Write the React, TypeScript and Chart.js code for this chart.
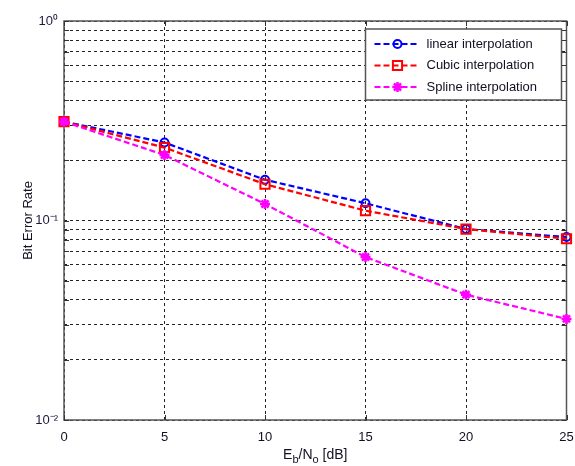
import React, { useEffect, useRef } from "react";
import { Chart, registerables } from "chart.js";
import { drawPoint } from "chart.js/helpers";

Chart.register(...registerables);

const FONT = "'Liberation Sans', Arial, sans-serif";

const ebno = [0, 5, 10, 15, 20, 25];
const linearBER = [0.313, 0.246, 0.16, 0.122, 0.0906, 0.0826];
const cubicBER = [0.313, 0.232, 0.152, 0.112, 0.0906, 0.081];
const splineBER = [0.313, 0.213, 0.121, 0.0656, 0.0425, 0.0321];

const seriesNames = ["linear interpolation", "Cubic interpolation", "Spline interpolation"];

const xTickValues = [0, 5, 10, 15, 20, 25];
const yTickValues = [
  0.01, 0.02, 0.03, 0.04, 0.05, 0.06, 0.07, 0.08, 0.09,
  0.1, 0.2, 0.3, 0.4, 0.5, 0.6, 0.7, 0.8, 0.9, 1,
];
const yDecadeLabels: Record<string, string> = {
  "0.01": "10\u207B\u00B2",
  "0.1": "10\u207B\u00B9",
  "1": "10\u2070",
};

const frameAndLegend = {
  id: "frameAndLegend",
  beforeDatasetsDraw(chart: any) {
    const { ctx, chartArea } = chart;
    const { left, right, top, bottom } = chartArea;
    ctx.save();
    ctx.strokeStyle = "#555";
    ctx.lineWidth = 1.5;
    ctx.setLineDash([]);
    ctx.strokeRect(left, top, right - left, bottom - top);
    ctx.lineWidth = 1;
    ctx.strokeStyle = "#333";
    const ys = chart.scales.y;
    ys.ticks.forEach((t: any) => {
      const py = Math.round(ys.getPixelForValue(t.value)) + 0.5;
      ctx.beginPath();
      ctx.moveTo(left, py);
      ctx.lineTo(left + 5, py);
      ctx.moveTo(right, py);
      ctx.lineTo(right - 5, py);
      ctx.stroke();
    });
    const xs = chart.scales.x;
    xs.ticks.forEach((t: any) => {
      const px = Math.round(xs.getPixelForValue(t.value)) + 0.5;
      ctx.beginPath();
      ctx.moveTo(px, bottom);
      ctx.lineTo(px, bottom - 5);
      ctx.moveTo(px, top);
      ctx.lineTo(px, top + 5);
      ctx.stroke();
    });
    ctx.restore();
  },
  afterDatasetsDraw(chart: any) {
    const { ctx, chartArea } = chart;
    const { left, right, top } = chartArea;
    ctx.save();
    // x axis title with subscripts
    const big = `14px ${FONT}`;
    const small = `11px ${FONT}`;
    const parts: [string, string, number][] = [
      ["E", big, 0],
      ["b", small, 4],
      ["/N", big, 0],
      ["o", small, 4],
      [" [dB]", big, 0],
    ];
    let total = 0;
    parts.forEach(([t, f]) => {
      ctx.font = f;
      total += ctx.measureText(t).width;
    });
    let cx = (left + right) / 2 - total / 2;
    const baseY = 459;
    ctx.fillStyle = "#111122";
    ctx.textBaseline = "alphabetic";
    ctx.textAlign = "left";
    parts.forEach(([t, f, dy]) => {
      ctx.font = f;
      ctx.fillText(t, cx, baseY + dy);
      cx += ctx.measureText(t).width;
    });

    // legend
    const bx = right - 201;
    const by = top + 8;
    const bw = 196;
    const bh = 71;
    ctx.fillStyle = "#fff";
    ctx.fillRect(bx, by, bw, bh);
    ctx.strokeStyle = "#555";
    ctx.lineWidth = 1.5;
    ctx.strokeRect(bx, by, bw, bh);
    const rowY = [15, 36.5, 58];
    chart.data.datasets.forEach((ds: any, i: number) => {
      const y = by + rowY[i];
      ctx.strokeStyle = ds.borderColor;
      ctx.lineWidth = ds.borderWidth;
      ctx.setLineDash(ds.borderDash || []);
      ctx.beginPath();
      ctx.moveTo(bx + 9, y);
      ctx.lineTo(bx + 53, y);
      ctx.stroke();
      ctx.setLineDash([]);
      ctx.fillStyle = ds.pointBackgroundColor;
      ctx.lineWidth = ds.pointBorderWidth;
      drawPoint(
        ctx,
        { pointStyle: ds.pointStyle, radius: ds.pointRadius, rotation: 0, borderWidth: ds.pointBorderWidth },
        bx + 32,
        y
      );
      ctx.fillStyle = "#111122";
      ctx.font = `13px ${FONT}`;
      ctx.textBaseline = "middle";
      ctx.fillText(ds.label, bx + 61, y);
    });
    ctx.restore();
  },
};

export default function App() {
  const ref = useRef<HTMLCanvasElement | null>(null);
  useEffect(() => {
    if (!ref.current) return;
    Chart.defaults.font.family = FONT;
    const mk = (label: string, data: number[], color: string, style: string, radius: number, fill: string, bw: number) => ({
      label,
      data: ebno.map((x, i) => ({ x, y: data[i] })),
      borderColor: color,
      backgroundColor: fill,
      pointBackgroundColor: fill,
      pointBorderColor: color,
      borderWidth: 2.2,
      borderDash: [6, 3],
      pointStyle: style,
      pointRadius: radius,
      pointBorderWidth: bw,
      tension: 0,
      clip: false as any,
    });
    const chart = new Chart(ref.current, {
      type: "line",
      data: {
        datasets: [
          { ...mk(seriesNames[0], linearBER, "#0000ff", "circle", 4, "rgba(0,0,0,0)", 2), order: 2 },
          { ...mk(seriesNames[1], cubicBER, "#ff0000", "rect", 6.5, "rgba(0,0,0,0)", 2), order: 1 },
          { ...mk(seriesNames[2], splineBER, "#ff00ff", "star", 5, "#ff00ff", 2.5), order: 0 },
        ] as any,
      },
      options: {
        animation: false,
        responsive: true,
        maintainAspectRatio: false,
        layout: { padding: { top: 21, right: 7, left: 0, bottom: 0 } },
        plugins: { legend: { display: false }, tooltip: { enabled: false } },
        scales: {
          x: {
            type: "linear",
            min: 0,
            max: 25,
            afterBuildTicks: (s: any) => {
              s.ticks = xTickValues.map((v) => ({ value: v }));
            },
            afterFit: (s: any) => {
              s.height = 46;
              s.paddingLeft = 0;
              s.paddingRight = 0;
            },
            ticks: {
              autoSkip: false,
              maxRotation: 0,
              padding: 10,
              color: "#111122",
              font: { size: 13, family: FONT },
            },
            grid: { color: "#222", lineWidth: 1, drawTicks: false },
            border: { display: false, dash: [3, 3] },
          },
          y: {
            type: "logarithmic",
            min: 0.01,
            max: 1,
            afterBuildTicks: (s: any) => {
              s.ticks = yTickValues.map((v) => ({ value: v }));
            },
            afterFit: (s: any) => {
              s.width = 64;
              s.paddingTop = 0;
              s.paddingBottom = 0;
            },
            ticks: {
              autoSkip: false,
              padding: 6,
              color: "#1a1a40",
              font: { size: 13, family: FONT },
              callback: (v: any) => {
                const key = String(Number(v));
                return yDecadeLabels[key] ?? "";
              },
            },
            title: {
              display: true,
              text: "Bit Error Rate",
              color: "#111122",
              font: { size: 13, family: FONT },
              padding: { top: 21, bottom: 0 },
            },
            grid: { color: "#222", lineWidth: 1, drawTicks: false },
            border: { display: false, dash: [3, 3] },
          },
        },
      },
      plugins: [frameAndLegend],
    });
    return () => chart.destroy();
  }, []);
  return (
    <div style={{ position: "absolute", left: 0, top: 0, width: 575, height: 466, background: "#fff" }}>
      <canvas ref={ref} />
    </div>
  );
}
